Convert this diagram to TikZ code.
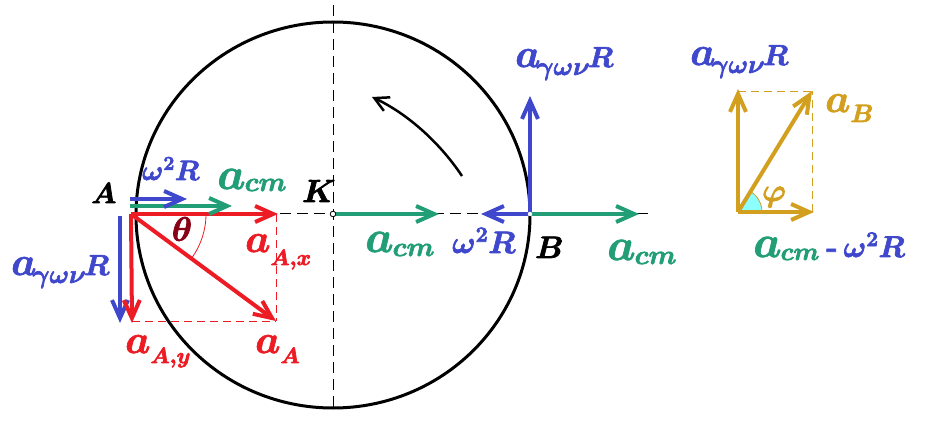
\RequirePackage{fix-cm}
\documentclass[tikz,border=0pt]{standalone}
\usepackage{amsmath}
\usetikzlibrary{arrows.meta}
\definecolor{vblue}{RGB}{63,72,204}
\definecolor{vgreen}{RGB}{34,158,118}
\definecolor{vred}{RGB}{237,28,36}
\definecolor{vgold}{RGB}{210,160,30}
\definecolor{vmaroon}{RGB}{136,0,21}
\definecolor{vcyan}{RGB}{140,255,255}
\newcommand\Ba[1]{\mbox{\fontsize{#1}{#1}\selectfont$a$}}
\newcommand\Sb[3]{\raisebox{-#1}{\fontsize{#2}{#2}\selectfont$#3$}}
\newcommand\Tx[2]{\mbox{\fontsize{#1}{#1}\selectfont$#2$}}
\newcommand\HeavyOn{\special{pdf:literal direct 2 Tr 0.7 w}}
\newcommand\HeavyOff{\special{pdf:literal direct 0 Tr}}
\begin{document}
\begin{tikzpicture}[x=1pt,y=-1pt,
  vec/.style={line width=4pt,-{Straight Barb[length=18pt,width=16pt]}},
  lbl/.style={inner sep=0pt,anchor=base west,font=\boldmath\HeavyOn,
    execute at end node={\HeavyOff}},
  clbl/.style={lbl,anchor=center},
  guide/.style={line width=1pt,dash pattern=on 11pt off 6pt},
  thin dash/.style={line width=0.9pt,dash pattern=on 8pt off 5pt}]
\useasboundingbox (0,0) rectangle (935,422);
% coordinates
\coordinate (C) at (333,215);
\coordinate (A) at (131,214);
\coordinate (K) at (333,214);
\coordinate (B) at (530,214);
\coordinate (Vt) at (333,5);
\coordinate (Vb) at (333,412);
\coordinate (Hl) at (280,214);
\coordinate (Hr) at (650,214);
\coordinate (Ab0) at (130,199);
\coordinate (Ab1) at (187,199);
\coordinate (Ag0) at (130,206);
\coordinate (Ag1) at (232,206);
\coordinate (Ax) at (278,214);
\coordinate (AA) at (276,321);
\coordinate (Ay) at (132,323);
\coordinate (Ayc) at (132,321);
\coordinate (Axc) at (276,214);
\coordinate (Av0) at (120,216);
\coordinate (Av1) at (120,323);
\coordinate (th0) at (206,214);
\coordinate (Kg) at (439,214);
\coordinate (Bb) at (481,214);
\coordinate (Bg0) at (532,214);
\coordinate (Bg) at (639,214);
\coordinate (Bu) at (530,96);
\coordinate (arc0) at (462,176);
\coordinate (arc1) at (372,97);
\coordinate (O) at (738,212);
\coordinate (Ot) at (738,89);
\coordinate (Or) at (814,212);
\coordinate (Od) at (812,91);
\coordinate (Dt) at (738,91);
\coordinate (Dr) at (812,212);
\coordinate (wd0) at (762,212);
% circle and guides
\draw[line width=3pt] (C) ellipse [x radius=197pt, y radius=193pt];
\draw[guide] (Vt) -- (Vb);
\draw[guide] (Hl) -- (Hr);
% curved rotation arrow
\draw[line width=2.5pt,-{Straight Barb[length=14pt,width=15pt]}] (arc0) .. controls (440,143) and (408,114) .. (arc1);
% point A
\draw[thin dash,vred] (Ayc) -- (AA);
\draw[thin dash,vred] (Axc) -- (AA);
\draw[vred,line width=0.8pt] (th0) arc[start angle=0,end angle=-36.4,radius=75pt];
\draw[vec,vblue] (Av0) -- (Av1);
\draw[vec,vred] (A) -- (Ay);
\draw[vec,vred] (A) -- (AA);
\draw[vec,vred] (A) -- (Ax);
\draw[vec,vgreen] (Ag0) -- (Ag1);
\draw[vec,vblue] (Ab0) -- (Ab1);
% point K and B
\draw[vec,vgreen] (K) -- (Kg);
\draw[vec,vblue] (B) -- (Bb);
\draw[vec,vgreen] (Bg0) -- (Bg);
\draw[vec,vblue] (B) -- (Bu);
\draw[fill=white,line width=0.8pt] (K) circle[radius=2.8pt];
\draw[fill=white,draw=white] (B) circle[radius=2pt];
% right diagram
\fill[vcyan] (O) -- (wd0) arc[start angle=0,end angle=58.5,radius=24pt] -- cycle;
\draw[vgold,line width=0.8pt] (wd0) arc[start angle=0,end angle=58.5,radius=24pt];
\draw[thin dash,vgold] (Dt) -- (Od);
\draw[thin dash,vgold] (Dr) -- (Od);
\draw[vec,vgold] (O) -- (Ot);
\draw[vec,vgold] (O) -- (Or);
\draw[vec,vgold] (O) -- (Od);
% labels
\node[lbl] (lA) at (91,203) {\Tx{29}{A}};
\node[lbl,text=vblue] (lw1) at (142,180) {\Tx{28}{\omega^2R}};
\node[lbl,text=vgreen] (lacm1) at (217,189) {\Ba{45}\kern-1pt\Sb{2pt}{27}{cm}};
\node[lbl,text=vred] (lAx) at (245,252) {\Ba{40}\Sb{13pt}{22}{A{,}x}};
\node[lbl,text=vblue] (lg1) at (11,275) {\Ba{40}\kern-4pt\Sb{8pt}{26}{\gamma\omega\nu}\kern-2pt\Tx{29}{R}};
\node[lbl,text=vred] (lAy) at (125,353) {\Ba{40}\Sb{10pt}{22}{A{,}y}};
\node[lbl,text=vred] (lAA) at (255,353) {\Ba{40}\Sb{10pt}{22}{A}};
\node[clbl,text=vmaroon] (lth) at (182,229) {\Tx{34}{\theta}};
\node[lbl] (lK) at (302,202) {\Tx{32}{K}};
\node[lbl,text=vgreen] (lacm2) at (365,252) {\Ba{45}\kern-1pt\Sb{4pt}{27}{cm}};
\node[lbl,text=vblue] (lw2) at (452,253) {\Tx{31}{\omega^2R}};
\node[lbl] (lB) at (535,258) {\Tx{31}{B}};
\node[lbl,text=vgreen] (lacm3) at (607,260) {\Ba{45}\kern-1pt\Sb{4pt}{27}{cm}};
\node[lbl,text=vblue] (lg2) at (515,67) {\Ba{40}\kern-4pt\Sb{8pt}{26}{\gamma\omega\nu}\kern-2pt\Tx{29}{R}};
\node[lbl,text=vblue] (lg3) at (690,65) {\Ba{40}\kern-4pt\Sb{8pt}{26}{\gamma\omega\nu}\kern-2pt\Tx{29}{R}};
\node[lbl,text=vgold] (laB) at (825,112) {\Ba{40}\Sb{10pt}{25}{B}};
\node[clbl,text=vgold] (lphi) at (774,197) {\Tx{32}{\varphi}};
\node[lbl] (lres) at (753,257) {\color{vgreen}\Ba{45}\kern-1pt\Sb{3pt}{25}{cm}\color{vblue}\kern7pt\mbox{\fontsize{30}{30}\selectfont\bfseries -}\kern6pt\Tx{30}{\omega^2R}};
\end{tikzpicture}
\end{document}
